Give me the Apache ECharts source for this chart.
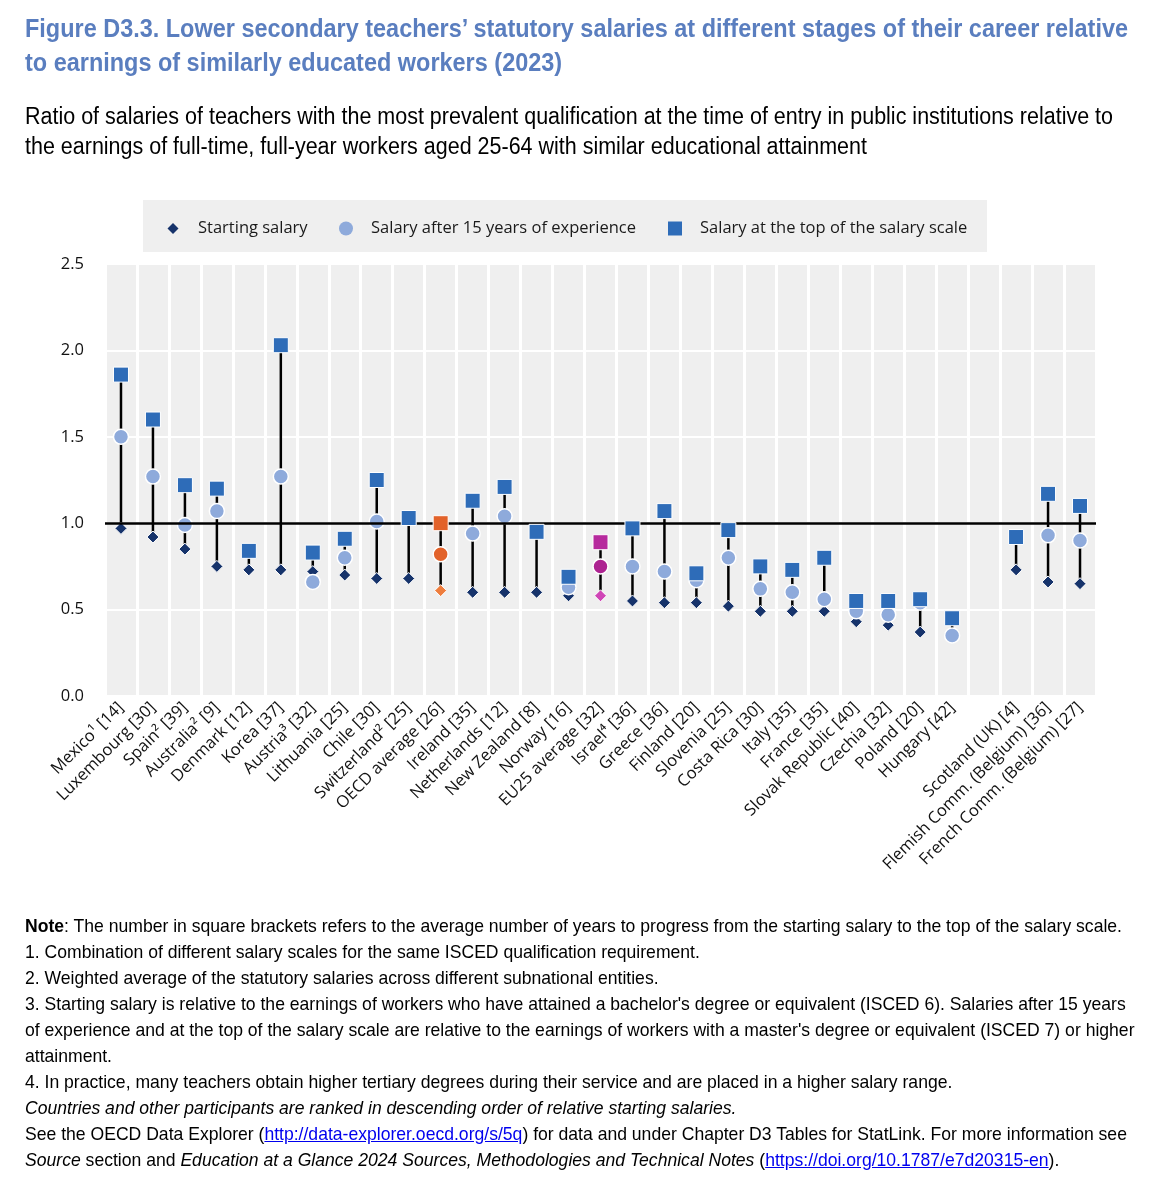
<!DOCTYPE html>
<html>
<head>
<meta charset="utf-8">
<script src="https://cdn.jsdelivr.net/npm/echarts@6/dist/echarts.min.js"></script>
<style>
  html, body { margin: 0; padding: 0; background: #fff; }
  body { width: 1172px; height: 1200px; position: relative; overflow: hidden; }
  #chart { position: absolute; left: 0; top: 0; width: 1172px; height: 1200px; }
  .txt { position: absolute; left: 25px; z-index: 2; white-space: nowrap; font-family: "Liberation Sans", Arial, sans-serif; transform-origin: 0 0; }
  #title { top: 11px; font-size: 25px; line-height: 34px; font-weight: bold; color: #5a7ebf; }
  #subtitle { top: 101px; font-size: 23px; line-height: 30px; color: #000; }
  #notes { top: 913px; font-size: 18.5px; line-height: 26px; color: #000; }
  #notes a { color: #0000ee; text-decoration: underline; }
</style>
</head>
<body>
<div id="chart"></div>
<div id="title" class="txt" data-target="1103"><span class="ln">Figure D3.3. Lower secondary teachers’ statutory salaries at different stages of their career relative</span><br><span>to earnings of similarly educated workers (2023)</span></div>
<div id="subtitle" class="txt" data-target="1088"><span class="ln">Ratio of salaries of teachers with the most prevalent qualification at the time of entry in public institutions relative to</span><br><span>the earnings of full-time, full-year workers aged 25-64 with similar educational attainment</span></div>
<div id="notes" class="txt" data-target="1097"><span class="ln"><b>Note</b>: The number in square brackets refers to the average number of years to progress from the starting salary to the top of the salary scale.</span><br>1. Combination of different salary scales for the same ISCED qualification requirement.<br>2. Weighted average of the statutory salaries across different subnational entities.<br>3. Starting salary is relative to the earnings of workers who have attained a bachelor's degree or equivalent (ISCED 6). Salaries after 15 years<br>of experience and at the top of the salary scale are relative to the earnings of workers with a master's degree or equivalent (ISCED 7) or higher<br>attainment.<br>4. In practice, many teachers obtain higher tertiary degrees during their service and are placed in a higher salary range.<br><i>Countries and other participants are ranked in descending order of relative starting salaries.</i><br>See the OECD Data Explorer (<a href="#">http://data-explorer.oecd.org/s/5q</a>) for data and under Chapter D3 Tables for StatLink. For more information see<br><i>Source</i> section and <i>Education at a Glance 2024 Sources, Methodologies and Technical Notes</i> (<a href="#">https://doi.org/10.1787/e7d20315-en</a>).</div>
<script>
const categories = ['Mexico¹ [14]', 'Luxembourg [30]', 'Spain² [39]', 'Australia² [9]', 'Denmark [12]', 'Korea [37]', 'Austria³ [32]', 'Lithuania [25]', 'Chile [30]', 'Switzerland² [25]', 'OECD average [26]', 'Ireland [35]', 'Netherlands [12]', 'New Zealand [8]', 'Norway [16]', 'EU25 average [32]', 'Israel⁴ [36]', 'Greece [36]', 'Finland [20]', 'Slovenia [25]', 'Costa Rica [30]', 'Italy [35]', 'France [35]', 'Slovak Republic [40]', 'Czechia [32]', 'Poland [20]', 'Hungary [42]', '', 'Scotland (UK) [4]', 'Flemish Comm. (Belgium) [36]', 'French Comm. (Belgium) [27]'];

const startingSalary = [0.97, 0.92, 0.85, 0.75, 0.73, 0.73, 0.72, 0.70, 0.68, 0.68, 0.61, 0.60, 0.60, 0.60, 0.58, 0.58, 0.55, 0.54, 0.54, 0.52, 0.49, 0.49, 0.49, 0.43, 0.41, 0.37, 0.34, null, 0.73, 0.66, 0.65];

const salary15Years = [1.50, 1.27, 0.99, 1.07, null, 1.27, 0.66, 0.80, 1.01, null, 0.82, 0.94, 1.04, null, 0.63, 0.75, 0.75, 0.72, 0.67, 0.80, 0.62, 0.60, 0.56, 0.49, 0.47, 0.54, 0.35, null, null, 0.93, 0.90];

const salaryTop = [1.86, 1.60, 1.22, 1.20, 0.84, 2.03, 0.83, 0.91, 1.25, 1.03, 1.00, 1.13, 1.21, 0.95, 0.69, 0.89, 0.97, 1.07, 0.71, 0.96, 0.75, 0.73, 0.80, 0.55, 0.55, 0.56, 0.45, null, 0.92, 1.17, 1.10];

const yTicks = [0, 0.5, 1.0, 1.5, 2.0, 2.5];

const seriesNames = ['Starting salary', 'Salary after 15 years of experience', 'Salary at the top of the salary scale'];

// fit narrow-style text blocks horizontally
document.querySelectorAll('.txt').forEach(el => {
  const ln = el.querySelector('.ln');
  const w = ln.getBoundingClientRect().width;
  const s = parseFloat(el.dataset.target) / w;
  el.style.transform = 'scaleX(' + s + ')';
});

// styling
const baseColors = ['#16336b', '#8eaadb', '#2e6cb8'];
const highlight = {
  'OECD average [26]': ['#ee7d3d', '#e2622a', '#e2622a'],
  'EU25 average [32]': ['#cf45b6', '#ad2391', '#b6299d']
};
const FONT = '"Open Sans", "Noto Sans", sans-serif';

function buildData(values, k) {
  return values.map((v, i) => {
    const h = highlight[categories[i]];
    const item = { value: [i, v === null ? '-' : v] };
    if (h) item.itemStyle = { color: h[k] };
    return item;
  });
}

const lineData = categories.map((c, i) => {
  const vals = [startingSalary[i], salary15Years[i], salaryTop[i]].filter(v => v !== null);
  if (!vals.length) return [i, '-', '-'];
  return [i, Math.min(...vals), Math.max(...vals)];
});

const chart = echarts.init(document.getElementById('chart'), null, { renderer: 'canvas' });

const legendLefts = [167, 340, 669];
const legendSizes = [11, 14, 14];

chart.setOption({
  animation: false,
  textStyle: { fontFamily: FONT },
  graphic: [{
    type: 'rect', left: 143, top: 200, z: -1,
    shape: { width: 844, height: 52 },
    style: { fill: '#efefef' }
  }],
  legend: seriesNames.map((n, k) => ({
    data: [n],
    left: legendLefts[k] - (legendSizes[k] - 12) / 2, top: 220,
    padding: 0,
    itemWidth: legendSizes[k], itemHeight: legendSizes[k],
    itemStyle: { borderWidth: 0 },
    formatter: name => '{t|' + name + '}',
    textStyle: {
      fontFamily: FONT, fontSize: 16.5, color: '#1a1a1a',
      rich: { t: { fontFamily: FONT, fontSize: 16.5, color: '#1a1a1a', padding: [0, 0, 0, 14 - (legendSizes[k] - 12) / 2] } }
    },
    selectedMode: false
  })),
  grid: {
    left: 105, right: 76, top: 264, bottom: 504,
    show: true, backgroundColor: '#efefef', borderWidth: 0
  },
  xAxis: {
    type: 'category',
    data: categories,
    axisLine: { show: false },
    axisTick: { show: false },
    splitLine: { show: true, lineStyle: { color: '#ffffff', width: 3 } },
    axisLabel: {
      rotate: 45, interval: 0, margin: 9,
      fontFamily: FONT, fontSize: 16.5, color: '#111'
    }
  },
  yAxis: {
    type: 'value', min: 0, max: 2.5, interval: 0.5,
    axisLine: { show: false }, axisTick: { show: false },
    splitLine: { show: true, lineStyle: { color: '#ffffff', width: 2 } },
    axisLabel: {
      margin: 21, fontFamily: FONT, fontSize: 16.5, color: '#111',
      formatter: v => yTicks.includes(v) ? v.toFixed(1) : ''
    }
  },
  series: [
    {
      type: 'custom',
      name: 'range',
      z: 2,
      data: lineData,
      encode: { x: 0, y: [1, 2] },
      renderItem: function (params, api) {
        const lo = api.value(1), hi = api.value(2);
        if (isNaN(lo) || isNaN(hi)) return null;
        const p1 = api.coord([api.value(0), lo]);
        const p2 = api.coord([api.value(0), hi]);
        return { type: 'line', shape: { x1: p1[0], y1: p1[1], x2: p2[0], y2: p2[1] },
                 style: { stroke: '#000', lineWidth: 2.5 } };
      },
      markLine: {
        silent: true, symbol: 'none', label: { show: false },
        lineStyle: { color: '#000', width: 2.5, type: 'solid' },
        data: [{ yAxis: 1 }]
      }
    },
    {
      type: 'scatter', name: seriesNames[0], z: 3,
      symbol: 'diamond', symbolSize: 12,
      itemStyle: { color: baseColors[0], opacity: 1, borderColor: '#ffffff', borderWidth: 1 },
      data: buildData(startingSalary, 0)
    },
    {
      type: 'scatter', name: seriesNames[1], z: 4,
      symbol: 'circle', symbolSize: 15,
      itemStyle: { color: baseColors[1], opacity: 1, borderColor: '#ffffff', borderWidth: 1.5 },
      data: buildData(salary15Years, 1)
    },
    {
      type: 'scatter', name: seriesNames[2], z: 5,
      symbol: 'rect', symbolSize: 15,
      itemStyle: { color: baseColors[2], opacity: 1, borderColor: '#ffffff', borderWidth: 1 },
      data: buildData(salaryTop, 2)
    }
  ]
});
</script>
</body>
</html>
